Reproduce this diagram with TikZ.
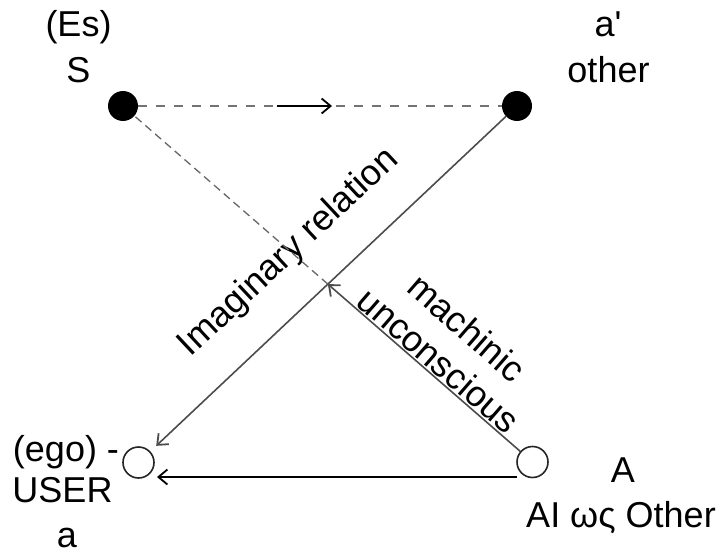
\documentclass[tikz,border=0pt]{standalone}
\usepackage{fontspec}
\setmainfont{Liberation Sans}
\newfontfamily\plainsans{Liberation Sans}
\usetikzlibrary{arrows.meta,calc}
\begin{document}
\begin{tikzpicture}[x=1pt,y=-1pt,
  lbl/.style={font=\fontsize{36}{46}\selectfont, inner sep=0pt, anchor=base},
  rlbl/.style={font=\fontsize{36}{43}\selectfont, inner sep=0pt, align=center},
  fillpt/.style={circle,fill=black,minimum size=30pt,inner sep=0pt},
  openpt/.style={circle,draw=black!85,line width=1.6pt,fill=white,minimum size=31pt,inner sep=0pt},
  barb/.style={-{Straight Barb[length=9pt,width=15pt,line width=1.8pt]}},
  dashline/.style={draw=black!55,line width=2.6pt,dash pattern=on 9pt off 9pt},
  dashthin/.style={draw=black!60,line width=1.3pt,dash pattern=on 8pt off 5pt},
  solidline/.style={draw=black!70,line width=1.6pt},
  blackline/.style={draw=black,line width=2.4pt}
]
\useasboundingbox (0,0) rectangle (721,554);
% points
\node[fillpt] (S) at (123,106) {};
\node[fillpt] (ap) at (517,106) {};
\node[openpt] (ego) at (138.5,462.5) {};
\node[openpt] (A) at (532.5,462) {};
% labels
\node[lbl] (t1) at (78.5,36) {(Es)};
\node[lbl] (t2) at (78.5,82) {S};
\node[lbl] (t3) at (608,36) {\plainsans a'};
\node[lbl] (t4) at (608.5,82) {other};
\node[lbl] (t5) at (66,461) {(ego) -};
\node[lbl] (t6) at (62.5,502) {USER};
\node[lbl] (t7) at (67,547) {a};
\node[lbl] (t8) at (623,482) {A};
\node[lbl] (t9) at (621,527) {AI ως Other};
\node[rlbl,rotate=43.1] (imag) at (289,253) {Imaginary relation};
\node[rlbl,rotate=-41] (mach) at (453,344) {machinic\\unconscious};
% S -> a'
\draw[dashline] (S) -- (ap);
\coordinate (m1) at (277,106);
\coordinate (m2) at (332,106);
\draw[draw=black,line width=2.4pt,barb] (m1) -- (m2);
% a' -> ego
\draw[solidline,barb,shorten >=8pt] (ap) -- (ego);
% A -> S (via crossing)
\coordinate (X) at (intersection of S--A and ap--ego);
\draw[dashthin] (X) -- (S);
\draw[solidline,barb] (A) -- (X);
% A -> ego
\coordinate (hA) at (517,477);
\coordinate (hE) at (157,477);
\draw[blackline,barb] (hA) -- (hE);
\end{tikzpicture}
\end{document}
